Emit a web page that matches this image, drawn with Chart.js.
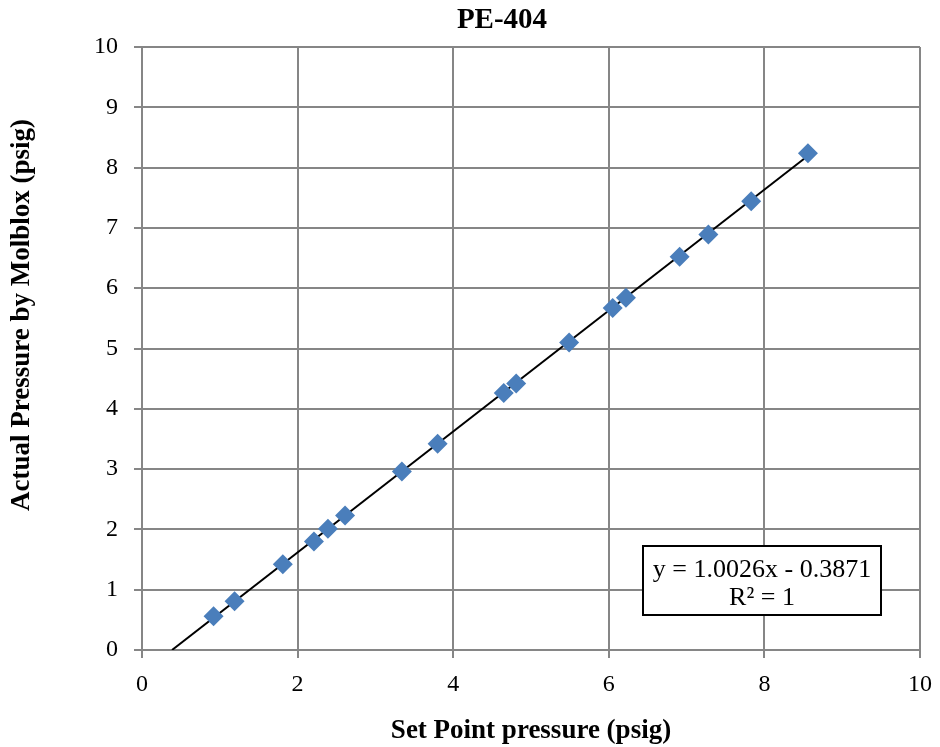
<!DOCTYPE html>
<html>
<head>
<meta charset="utf-8">
<title>PE-404</title>
<script src="https://cdn.jsdelivr.net/npm/chart.js@4.4.0/dist/chart.umd.min.js"></script>
<style>
  html, body { margin: 0; padding: 0; background: #fff; }
  #chart { display: block; }
</style>
</head>
<body>
<canvas id="chart" width="940" height="747"></canvas>
<script>
// set point vs. measured pressure (psig)
var setPoint = [0.92, 1.19, 1.81, 2.21, 2.39, 2.61, 3.34, 3.80, 4.65, 4.81, 5.49, 6.05, 6.22, 6.91, 7.28, 7.83, 8.56];
var actual   = [0.56, 0.81, 1.42, 1.80, 2.01, 2.23, 2.96, 3.42, 4.26, 4.42, 5.10, 5.67, 5.84, 6.52, 6.89, 7.44, 8.24];

// linear fit as printed on the chart
var slope = 1.0026;
var intercept = -0.3871;
var fitLabel = ["y = 1.0026x - 0.3871", "R\u00b2 = 1"];

var serif = "'Liberation Serif', 'Times New Roman', serif";
var gridGray = '#868686';

// line runs from where it crosses y = 0 up to the last set point
var x0 = -intercept / slope;
var x1 = setPoint[setPoint.length - 1];
var trend = [
    { x: x0, y: slope * x0 + intercept },
    { x: x1, y: slope * x1 + intercept }
];

var points = setPoint.map(function (v, i) {
    return { x: v, y: actual[i] };
});

// title, vertical axis title and the equation box
var extraText = {
    id: 'extraText',
    afterDraw: function (chart) {
        var ctx = chart.ctx;
        var area = chart.chartArea;
        ctx.save();
        ctx.fillStyle = '#000';
        ctx.textAlign = 'center';
        ctx.textBaseline = 'middle';

        ctx.font = 'bold 29px ' + serif;
        ctx.fillText('PE-404', 502, 21);

        ctx.save();
        ctx.translate(22, 315);
        ctx.rotate(-Math.PI / 2);
        ctx.font = 'bold 27px ' + serif;
        ctx.fillText('Actual Pressure by Molblox (psig)', 0, 0);
        ctx.restore();

        var bw = 238, bh = 69;
        var bx = area.right - 39 - bw;
        var by = area.bottom - 35 - bh;
        ctx.fillStyle = '#fff';
        ctx.fillRect(bx, by, bw, bh);
        ctx.strokeStyle = '#000';
        ctx.lineWidth = 2;
        ctx.strokeRect(bx, by, bw, bh);
        ctx.fillStyle = '#000';
        ctx.font = '26px ' + serif;
        ctx.fillText(fitLabel[0], bx + bw / 2, by + 24);
        ctx.fillText(fitLabel[1], bx + bw / 2, by + 52);
        ctx.restore();
    }
};

new Chart(document.getElementById('chart'), {
    type: 'scatter',
    data: {
        datasets: [{
            label: 'Actual',
            data: points,
            pointStyle: 'rectRot',
            pointRadius: 10,
            pointHoverRadius: 10,
            backgroundColor: '#4A7EBB',
            borderColor: '#4A7EBB',
            borderWidth: 0
        }, {
            label: 'Linear',
            type: 'line',
            data: trend,
            borderColor: '#000',
            borderWidth: 2,
            pointRadius: 0,
            fill: false
        }]
    },
    options: {
        responsive: false,
        animation: false,
        layout: {
            padding: { top: 47, right: 20, left: 0, bottom: 0 }
        },
        plugins: {
            legend: { display: false },
            tooltip: { enabled: false }
        },
        scales: {
            x: {
                type: 'linear',
                min: 0,
                max: 10,
                ticks: {
                    stepSize: 2,
                    color: '#000',
                    padding: 12,
                    font: { family: serif, size: 24 }
                },
                grid: {
                    color: gridGray,
                    lineWidth: 2,
                    tickLength: 8
                },
                border: { color: gridGray, width: 2 },
                title: {
                    display: true,
                    text: 'Set Point pressure (psig)',
                    color: '#000',
                    padding: { top: 4, bottom: 0 },
                    font: { family: serif, size: 27, weight: 'bold' }
                },
                afterFit: function (scale) {
                    scale.height = 97;
                    scale.paddingRight = 0;
                }
            },
            y: {
                type: 'linear',
                min: 0,
                max: 10,
                ticks: {
                    stepSize: 1,
                    color: '#000',
                    padding: 16,
                    font: { family: serif, size: 24 }
                },
                grid: {
                    color: gridGray,
                    lineWidth: 2,
                    tickLength: 8
                },
                border: { color: gridGray, width: 2 },
                afterFit: function (scale) {
                    scale.width = 142;
                }
            }
        }
    },
    plugins: [extraText]
});
</script>
</body>
</html>
